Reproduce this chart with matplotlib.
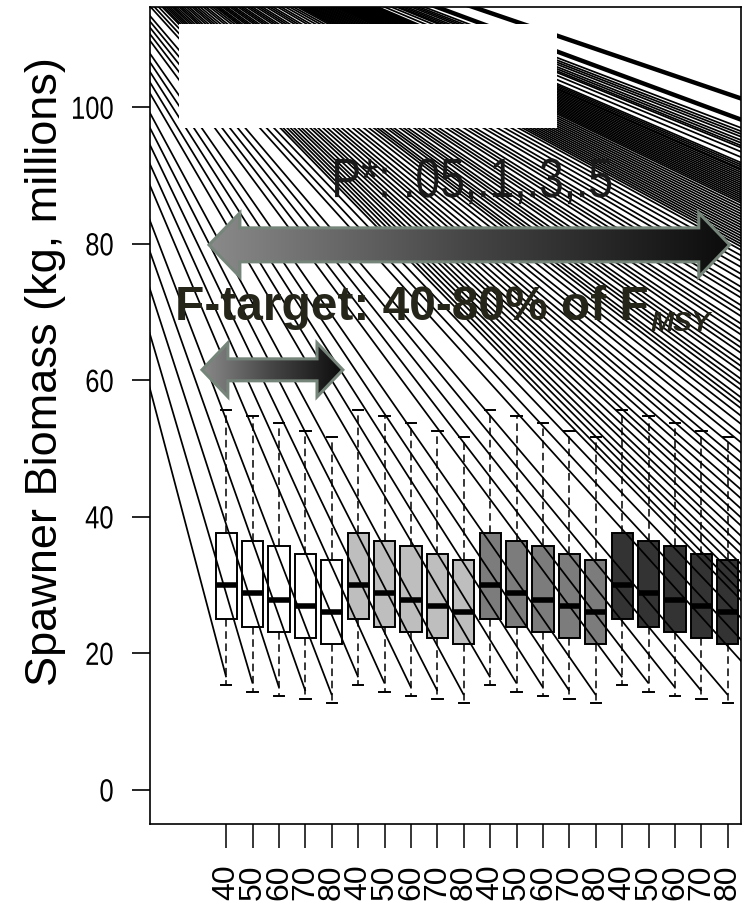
import matplotlib.pyplot as plt
import numpy as np
from matplotlib.patches import Polygon, Rectangle
from matplotlib.collections import LineCollection
from matplotlib.colors import LinearSegmentedColormap
from matplotlib.patheffects import AbstractPathEffect
from matplotlib.transforms import Affine2D

# --- DATA ---
# 20 scenarios: 4 P* groups x 5 F-target levels (% of FMSY)
tick_labels = ["40", "50", "60", "70", "80", "40", "50", "60", "70", "80",
               "40", "50", "60", "70", "80", "40", "50", "60", "70", "80"]
q3 = [37.6, 36.4, 35.8, 34.6, 33.7, 37.6, 36.4, 35.8, 34.6, 33.7,
      37.6, 36.4, 35.8, 34.6, 33.7, 37.6, 36.4, 35.8, 34.6, 33.7]
med = [30.0, 28.8, 27.8, 27.0, 26.0, 30.0, 28.8, 27.8, 27.0, 26.0,
       30.0, 28.8, 27.8, 27.0, 26.0, 30.0, 28.8, 27.8, 27.0, 26.0]
q1 = [25.0, 23.8, 23.2, 22.3, 21.4, 25.0, 23.8, 23.2, 22.3, 21.4,
      25.0, 23.8, 23.2, 22.3, 21.4, 25.0, 23.8, 23.2, 22.3, 21.4]
whis_hi = [55.7, 54.8, 53.8, 52.6, 51.7, 55.7, 54.8, 53.8, 52.6, 51.7,
           55.7, 54.8, 53.8, 52.6, 51.7, 55.7, 54.8, 53.8, 52.6, 51.7]
whis_lo = [15.3, 14.4, 13.8, 13.3, 12.7, 15.3, 14.4, 13.8, 13.3, 12.7,
           15.3, 14.4, 13.8, 13.3, 12.7, 15.3, 14.4, 13.8, 13.3, 12.7]
group_fill = ["white", "#bebebe", "#7c7c7c", "#333333"]

# background fan of lines, all coming from one point up-left of the plot
fan_origin = (-7.3, 138.0)
# lines that end at a box (one per box)
fan_end_y = [16.5, 15.6, 15.0, 14.5, 13.9, 16.5, 15.6, 15.0, 14.5, 13.9,
             16.5, 15.6, 15.0, 14.5, 13.9, 16.5, 15.6, 15.0, 14.5, 13.9]
# lines that leave through the right edge: y where they cross it
fan_right_y = [97.0, 96.5, 96.1, 95.7, 95.2, 94.8, 94.4, 94.1, 93.5, 92.7,
               91.9, 91.6, 91.3, 91.0, 90.8, 90.5, 90.2, 89.9, 89.6, 89.3,
               89.0, 88.7, 88.4, 88.1, 87.8, 87.5, 87.2, 86.9, 86.6, 86.3,
               86.0, 85.6, 85.2, 84.8, 84.4, 84.0,
               83.6, 83.2, 82.8, 82.4, 82.0, 81.6, 81.2, 80.8, 80.4, 80.0,
               79.6, 79.1, 78.3,
               77.5, 76.6, 75.6, 74.8, 73.7, 72.9, 72.1, 71.0, 70.2, 69.4,
               68.3, 67.5, 66.7, 65.6, 64.8, 64.0, 62.9, 62.1, 61.3, 60.2,
               59.4, 58.6, 57.5, 56.7, 55.9, 54.8,
               53.6, 52.1, 50.9, 49.4, 48.0, 46.7, 45.5, 44.0, 42.7, 41.2,
               39.9, 38.7, 37.2, 35.8, 34.6, 33.1, 31.8, 30.5, 29.0, 27.8,
               25.2, 22.0, 18.9]
fan_right_thick = [101.3, 98.2]

# --- LAYOUT ---
XMIN, XMAX = -1.886, 20.5
YMIN, YMAX = -5.0, 114.7
ARIAL = ["Liberation Sans", "DejaVu Sans"]


class Squeeze(AbstractPathEffect):
    """Narrow a text horizontally (stands in for Arial Narrow)."""

    def __init__(self, sx, anchor="center"):
        super().__init__()
        self.sx = sx
        self.anchor = anchor

    def draw_path(self, renderer, gc, tpath, affine, rgbFace=None):
        ext = tpath.get_extents(affine)
        if self.anchor == "right":
            cx = ext.x1
        elif self.anchor == "left":
            cx = ext.x0
        else:
            cx = 0.5 * (ext.x0 + ext.x1)
        aff = affine + Affine2D().translate(-cx, 0).scale(self.sx, 1).translate(cx, 0)
        renderer.draw_path(gc, tpath, aff, rgbFace)


fig = plt.figure(figsize=(7.47, 9.06), dpi=100)
ax = fig.add_axes([150 / 747, 82 / 906, 591 / 747, 817 / 906])

positions = np.arange(1, len(med) + 1)

# --- BOXES ---
stats = []
for i in range(len(med)):
    stats.append(dict(med=med[i], q1=q1[i], q3=q3[i],
                      whislo=whis_lo[i], whishi=whis_hi[i], fliers=[]))
bp = ax.bxp(stats, positions=positions, widths=0.8, patch_artist=True,
            showfliers=False,
            boxprops=dict(edgecolor="black", linewidth=1.4),
            medianprops=dict(color="black", linewidth=4.0, solid_capstyle="butt"),
            whiskerprops=dict(color="black", linewidth=1.1, linestyle=(0, (5, 3))),
            capprops=dict(color="black", linewidth=1.4))
for i, patch in enumerate(bp["boxes"]):
    patch.set_facecolor(group_fill[i // 5])
    patch.set_zorder(2)

# --- FAN OF LINES ---
ox, oy = fan_origin
segs = []
for x, y in zip(positions, fan_end_y):
    segs.append([(ox, oy), (x, y)])
far_x = 24.0
for r in fan_right_y:
    segs.append([(ox, oy), (far_x, oy + (r - oy) * (far_x - ox) / (XMAX - ox))])
ax.add_collection(LineCollection(segs, colors="black", linewidths=1.25, zorder=3))
thick = [[(ox, oy), (far_x, oy + (r - oy) * (far_x - ox) / (XMAX - ox))]
         for r in fan_right_thick]
ax.add_collection(LineCollection(thick, colors="black", linewidths=3.2, zorder=3))

# white block over the top-left
ax.add_patch(Rectangle((-0.788, 97.0), 14.32, 15.2, facecolor="white",
                       edgecolor="none", zorder=4))

# --- GRADIENT DOUBLE ARROWS ---
arrow_cmap = LinearSegmentedColormap.from_list("arr", ["#8a8a8a", "#454545", "#0c0c0c"])


def double_arrow(x0, x1, yc, head_len, head_h, shaft_h):
    verts = [(x0, yc), (x0 + head_len, yc + head_h), (x0 + head_len, yc + shaft_h),
             (x1 - head_len, yc + shaft_h), (x1 - head_len, yc + head_h), (x1, yc),
             (x1 - head_len, yc - head_h), (x1 - head_len, yc - shaft_h),
             (x0 + head_len, yc - shaft_h), (x0 + head_len, yc - head_h)]
    poly = Polygon(verts, closed=True, facecolor="none", edgecolor="#75857a",
                   linewidth=2.2, zorder=6)
    ax.add_patch(poly)
    grad = np.linspace(0, 1, 256).reshape(1, -1)
    im = ax.imshow(grad, extent=[x0, x1, yc - head_h, yc + head_h], cmap=arrow_cmap,
                   aspect="auto", zorder=5, interpolation="bilinear")
    im.set_clip_path(poly)


double_arrow(0.349, 20.07, 79.85, 1.17, 4.69, 2.49)
double_arrow(0.083, 5.42, 61.54, 0.98, 3.96, 1.61)

# --- TEXT ---
ax.text(10.31, 88.9, "P*: .05,.1,.3,.5", ha="center", va="center",
        fontsize=40, family=ARIAL, color="#1a1a1a", zorder=7,
        path_effects=[Squeeze(0.8, "center")])
t1 = ax.text(-0.94, 68.9, "F-target: 40-80% of F", ha="left", va="baseline",
             fontsize=34.5, fontweight="bold", family=ARIAL,
             color="#25251a", zorder=7)
ax.annotate("MSY", xy=(1, 0), xycoords=t1, xytext=(1, -1),
            textcoords="offset points", ha="left", va="baseline", fontsize=20,
            fontweight="bold", fontstyle="italic", family=ARIAL,
            color="#25251a", zorder=7)

# --- AXES ---
ax.set_xlim(XMIN, XMAX)
ax.set_ylim(YMIN, YMAX)
ax.set_xticks(positions)
ax.set_xticklabels(tick_labels, rotation=90, fontsize=23, family=ARIAL)
ax.set_yticks([0, 20, 40, 60, 80, 100])
ax.set_yticklabels(["0", "20", "40", "60", "80", "100"], fontsize=23, family=ARIAL)
for lab in ax.get_yticklabels():
    lab.set_path_effects([Squeeze(0.8, "right")])
ax.tick_params(axis="x", length=17, width=1.1, pad=12)
ax.tick_params(axis="y", length=13, width=1.2, pad=13)
for s in ax.spines.values():
    s.set_linewidth(1.2)

fig.text(46 / 747, 1 - 372 / 906, "Spawner Biomass (kg, millions)", rotation=90,
         ha="center", va="center", fontsize=32.5, family=ARIAL)

fig.savefig("out.png", dpi=100)
